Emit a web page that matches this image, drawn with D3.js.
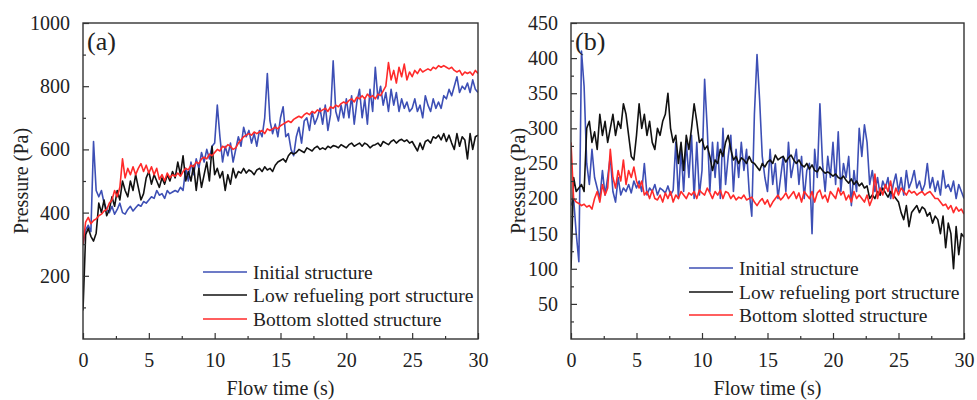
<!DOCTYPE html>
<html>
<head>
<meta charset="utf-8">
<script src="https://cdn.jsdelivr.net/npm/d3@7"></script>
<style>
  html, body { margin: 0; padding: 0; background: #fff; }
  svg { display: block; }
  text { font-family: "Liberation Serif", "Times New Roman", serif; fill: #222; }
</style>
</head>
<body>
<svg id="chart" width="977" height="400"></svg>
<script>
// ---------------- DATA ----------------
const seriesNames = ["Initial structure", "Low refueling port structure", "Bottom slotted structure"];
const seriesColors = ["#3d4fb5", "#111111", "#ff2a2a"];
const panelLabels = ["(a)", "(b)"];
const xTicks = [0, 5, 10, 15, 20, 25, 30];
const yTicksA = [200, 400, 600, 800, 1000];
const yTicksB = [50, 100, 150, 200, 250, 300, 350, 400, 450];
const xTitle = "Flow time (s)";
const yTitle = "Pressure (Pa)";
// sampling grid: 0 .. 30 s every 0.2 s (151 samples)
const timeStep = 0.2;

// Panel (a)
const aInitial = [
  300, 345, 360, 340, 625, 470,
  450, 470, 430, 410, 400,
  420, 395, 410, 430, 400,
  395, 410, 420, 405, 415,
  425, 420, 435, 430, 440,
  450, 445, 470, 455, 460,
  445, 470, 460, 465, 470,
  465, 480, 470, 540, 500,
  560, 520, 570, 540, 590,
  560, 600, 570, 610, 620,
  740, 640, 560, 610, 580,
  620, 560, 600, 640, 610,
  670, 640, 660, 620, 650,
  610, 660, 640, 700, 840,
  690, 650, 680, 640, 700,
  735, 640, 650, 600, 580,
  640, 670, 620, 690, 700,
  660, 720, 680, 700, 730,
  680, 740, 660, 710, 880,
  720, 690, 740, 700, 760,
  700, 770, 680, 750, 790,
  700, 760, 680, 790, 720,
  860, 760, 800, 740, 780,
  720, 790, 740, 780, 720,
  760, 730, 750, 720, 730,
  760, 720, 740, 700, 770,
  740, 720, 760, 730, 750,
  730, 770, 760, 790, 770,
  800, 830, 780, 800, 790,
  810, 780, 820, 790, 780
];
const aLowPort = [
  90, 330, 350, 325, 310, 335,
  430, 400, 440, 390, 410,
  450, 420, 470, 440, 500,
  470, 450, 500, 470, 520,
  480, 440, 460, 510, 530,
  490, 520, 500, 480, 510,
  490, 520, 500, 530, 510,
  560, 520, 580, 500, 530,
  500, 550, 470, 540, 480,
  520, 560, 500, 610, 520,
  540, 510, 530, 470, 520,
  490, 540, 510, 530, 525,
  540, 525, 535, 530, 520,
  535, 540, 530, 545, 535,
  540, 530, 550, 560, 565,
  570, 560, 580, 590, 585,
  590, 600, 595, 590, 605,
  600, 595, 605, 610, 600,
  605, 600, 610, 605, 612,
  610, 605, 615, 610, 605,
  615, 620, 610, 615, 620,
  610, 620, 615, 605, 612,
  615, 620, 610, 625, 620,
  615, 625, 630, 620, 628,
  632, 625, 630, 620, 625,
  610, 595, 620, 600, 625,
  630, 620, 640, 635, 645,
  630, 650, 625, 645, 620,
  600, 650, 610, 640, 630,
  570, 650, 600, 640, 645
];
const aSlotted = [
  300, 370, 385, 365, 375, 380,
  390, 395, 405, 410, 430,
  440, 470, 450, 480, 570,
  510, 540, 520, 545, 520,
  540, 555, 530, 550, 525,
  545, 520, 540, 505, 520,
  500, 525, 510, 520, 515,
  525, 515, 530, 540, 535,
  550, 545, 560, 555, 570,
  575, 570, 585, 580, 590,
  600, 595, 610, 605, 615,
  610, 600, 605, 620, 630,
  640, 645, 650, 645, 655,
  650, 655, 660, 650, 665,
  660, 665, 670, 665, 675,
  680, 685, 690, 685, 695,
  700, 705, 700, 710, 715,
  710, 720, 715, 725, 720,
  725, 730, 720, 735, 730,
  740, 735, 745, 750, 745,
  755, 760, 750, 765, 760,
  770, 760, 775, 765, 770,
  760, 775, 770, 785, 800,
  875, 820, 850, 810, 860,
  830, 870, 820, 845, 830,
  850, 840, 855, 845, 850,
  855, 850, 860, 855, 865,
  860, 865, 860, 855, 860,
  850, 845, 850, 835, 845,
  840, 845, 835, 850, 840
];

// Panel (b)
const bInitial = [
  190, 200, 150, 110, 410, 360,
  250, 220, 270, 230, 215,
  200, 240, 205, 230, 260,
  210, 195, 230, 205, 215,
  210, 220, 208, 225, 215,
  225, 210, 250, 205, 215,
  210, 220, 205, 215, 212,
  208, 218, 205, 212, 280,
  200, 270, 210, 280, 230,
  290, 200, 280, 205, 240,
  370, 300, 210, 280, 230,
  280, 200, 300, 220, 260,
  290, 210, 270, 230, 280,
  240, 270, 210, 175, 320,
  405, 340, 260, 230, 210,
  270, 220, 250, 200, 230,
  260, 210, 280, 230, 250,
  270, 220, 260, 200, 240,
  250, 150, 270, 230, 335,
  250, 210, 260, 230, 280,
  220, 295, 210, 250, 230,
  260, 190, 240, 210, 300,
  260, 305, 280, 220, 240,
  210, 230, 205, 225, 215,
  230, 200, 220, 235, 210,
  230, 205, 240, 215, 225,
  240, 215, 225, 210, 220,
  250, 215, 230, 210, 225,
  205, 240, 215, 220, 210,
  225, 200, 220, 210, 200
];
const bLowPort = [
  100, 230, 210, 215, 220, 210,
  300, 310, 280, 295, 270,
  320, 290, 310, 280, 300,
  320, 290, 310, 300, 335,
  320, 290, 260, 255, 290,
  335, 300, 320, 290, 310,
  280, 270, 300, 290, 310,
  320, 350, 300, 280, 290,
  250, 280, 240, 290, 270,
  300, 335, 310, 280, 285,
  270, 275, 260, 240, 255,
  250, 270, 260, 280, 290,
  270, 255, 260, 250, 258,
  255, 250, 260, 252, 250,
  245, 240, 250, 245, 252,
  255, 250, 262, 255, 258,
  260, 252, 258, 262, 255,
  250, 255, 248, 245, 250,
  242, 248, 240, 238, 245,
  240, 236, 238, 235, 232,
  235, 230, 228, 232, 226,
  222, 228, 220, 225, 218,
  222, 215, 218, 200, 205,
  200, 210, 205, 215, 208,
  202, 210, 205, 200, 195,
  180, 170, 190, 160, 180,
  185, 190, 180, 188, 185,
  175, 180, 165, 175, 170,
  150, 175, 130, 165, 150,
  100, 160, 120, 150, 145
];
const bSlotted = [
  280, 200, 195, 193, 190, 192,
  188, 190, 185, 200, 210,
  195, 220, 205, 215, 270,
  230, 215, 240, 225, 255,
  220, 240, 230, 245, 225,
  215, 225, 205, 210, 200,
  212, 200, 198, 205, 195,
  208, 200, 210, 195, 205,
  200, 210, 205, 200, 208,
  205, 210, 200, 212, 208,
  205, 215, 208, 200, 210,
  205, 212, 200, 210, 208,
  200, 205, 198, 202, 200,
  205, 198, 200, 202, 195,
  190, 196, 200, 192, 198,
  188, 195, 200, 205, 198,
  202, 208, 200, 205, 210,
  200, 208, 195, 210, 205,
  200, 210, 195, 208, 212,
  200, 205, 195, 210, 205,
  200, 215, 205, 210, 198,
  205, 195, 210, 200, 205,
  200, 195, 205, 190, 200,
  235, 200, 215, 205, 220,
  210, 225, 200, 215, 205,
  215, 210, 205, 212, 208,
  210, 205, 208, 210, 205,
  208, 210, 205, 200, 200,
  195, 190, 192, 185, 190,
  180, 188, 182, 185, 178
];

// ---------------- DRAW ----------------
const svg = d3.select("#chart");

const panels = [
  { label: panelLabels[0], left: 83, right: 478, top: 23, bottom: 339,
    yMax: 1000, yTicks: yTicksA, yMinorStep: 100,
    series: [aInitial, aLowPort, aSlotted],
    legendX: 203, legendRows: [272, 295, 319], yTitleX: 21 },
  { label: panelLabels[1], left: 571, right: 964, top: 23, bottom: 339,
    yMax: 450, yTicks: yTicksB, yMinorStep: 25,
    series: [bInitial, bLowPort, bSlotted],
    legendX: 689, legendRows: [268, 292, 315], yTitleX: 518 }
];

panels.forEach((p, pi) => {
  const g = svg.append("g");
  const x = d3.scaleLinear().domain([0, 30]).range([p.left, p.right]);
  const y = d3.scaleLinear().domain([0, p.yMax]).range([p.bottom, p.top]);

  const clipId = "clip" + pi;
  svg.append("clipPath").attr("id", clipId)
    .append("rect").attr("x", p.left).attr("y", p.top)
    .attr("width", p.right - p.left).attr("height", p.bottom - p.top);

  const line = d3.line().x((d, i) => x(i * timeStep)).y(d => y(d));
  [0, 1, 2].forEach(si => {
    g.append("path")
      .datum(p.series[si])
      .attr("clip-path", `url(#${clipId})`)
      .attr("fill", "none")
      .attr("stroke", seriesColors[si])
      .attr("stroke-width", 1.6)
      .attr("stroke-linejoin", "round")
      .attr("d", line);
  });

  // minor ticks
  const xMinor = d3.range(2.5, 30, 5);
  g.append("g").attr("transform", `translate(0,${p.bottom})`)
    .call(d3.axisBottom(x).tickValues(xMinor).tickSize(-3).tickFormat(""))
    .call(s => s.select(".domain").remove())
    .call(s => s.selectAll("line").attr("stroke", "#333").attr("stroke-width", 1.2));
  const yMinor = d3.range(p.yMinorStep, p.yMax, p.yMinorStep).filter(v => !p.yTicks.includes(v));
  g.append("g").attr("transform", `translate(${p.left},0)`)
    .call(d3.axisLeft(y).tickValues(yMinor).tickSize(-3).tickFormat(""))
    .call(s => s.select(".domain").remove())
    .call(s => s.selectAll("line").attr("stroke", "#333").attr("stroke-width", 1.2));

  // major ticks
  g.append("g").attr("transform", `translate(0,${p.bottom})`)
    .call(d3.axisBottom(x).tickValues(xTicks).tickSize(-6).tickPadding(14).tickFormat(d3.format("d")))
    .call(s => s.select(".domain").remove())
    .call(s => s.selectAll("line").attr("stroke", "#333").attr("stroke-width", 1.2))
    .call(s => s.selectAll("text").attr("font-size", 20)
      .attr("font-family", "'Liberation Serif', serif").attr("fill", "#222"));
  g.append("g").attr("transform", `translate(${p.left},0)`)
    .call(d3.axisLeft(y).tickValues(p.yTicks).tickSize(-6).tickPadding(13).tickFormat(d3.format("d")))
    .call(s => s.select(".domain").remove())
    .call(s => s.selectAll("line").attr("stroke", "#333").attr("stroke-width", 1.2))
    .call(s => s.selectAll("text").attr("font-size", 20)
      .attr("font-family", "'Liberation Serif', serif").attr("fill", "#222"));

  // frame
  g.append("rect").attr("x", p.left).attr("y", p.top)
    .attr("width", p.right - p.left).attr("height", p.bottom - p.top)
    .attr("fill", "none").attr("stroke", "#333").attr("stroke-width", 1.4);

  // panel label
  g.append("text").attr("x", p.left + 4).attr("y", p.top + 27)
    .attr("font-size", 26).text(p.label);

  // axis titles
  g.append("text").attr("x", (p.left + p.right) / 2).attr("y", 395)
    .attr("text-anchor", "middle").attr("font-size", 20).text(xTitle);
  g.append("text")
    .attr("transform", `translate(${p.yTitleX + 7},${(p.top + p.bottom) / 2}) rotate(-90)`)
    .attr("text-anchor", "middle").attr("font-size", 20).text(yTitle);

  // legend
  seriesNames.forEach((name, si) => {
    const ly = p.legendRows[si];
    g.append("line").attr("x1", p.legendX).attr("x2", p.legendX + 44)
      .attr("y1", ly).attr("y2", ly)
      .attr("stroke", seriesColors[si]).attr("stroke-width", 1.6);
    g.append("text").attr("x", p.legendX + 50).attr("y", ly + 6.5)
      .attr("font-size", 19.5).text(name);
  });
});
</script>
</body>
</html>
